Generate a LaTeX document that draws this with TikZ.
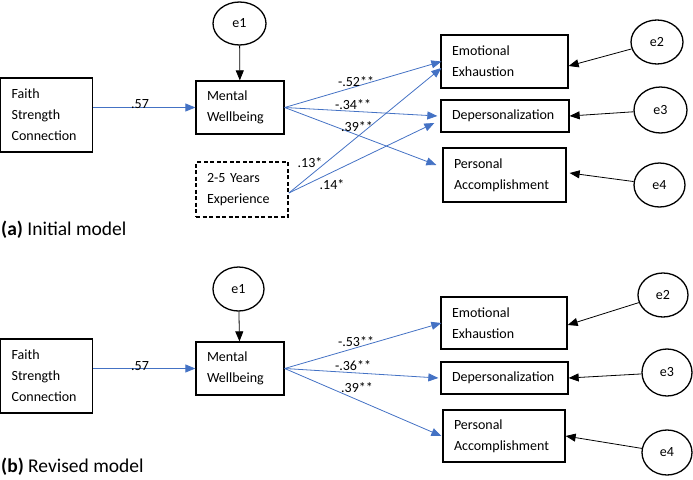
\documentclass[tikz,border=0pt]{standalone}
\usepackage{fontspec}
\setmainfont{Carlito}
\usetikzlibrary{shapes.geometric,arrows.meta}
\definecolor{pathblue}{RGB}{68,114,196}
\newcommand{\boxfont}{\fontsize{14}{21}\selectfont}
\tikzset{
  box/.style={draw, line width=1.3pt, inner xsep=11pt, inner ysep=0pt, align=left, font=\boxfont},
  dbox/.style={box, dash pattern=on 4pt off 2.5pt, line width=1.7pt},
  err/.style={draw, ellipse, line width=1.3pt, inner sep=0pt, font=\fontsize{14}{15}\selectfont},
  blue arrow/.style={draw=pathblue, line width=0.8pt, -{Triangle[length=10pt,width=8pt]}, color=pathblue},
  black arrow/.style={draw=black, line width=0.8pt, -{Triangle[length=10pt,width=8pt]}},
  coef/.style={font=\fontsize{14}{15}\selectfont, inner sep=0pt},
  captext/.style={font=\fontsize{19.5}{21}\selectfont, anchor=west, inner sep=0pt}
}
\begin{document}
\begin{tikzpicture}[x=1pt,y=-1pt]
\useasboundingbox (0,0) rectangle (693,479);
% ---------- panel (a) ----------
\node[box, text width=70pt, minimum height=74pt] (fa) at (46.6,115) {Faith\\Strength\\Connection};
\node[box, text width=66pt, minimum height=53pt] (mwa) at (240,107.5) {Mental\\Wellbeing};
\node[dbox, text width=70pt, minimum height=55pt] (ty) at (242,189.5) {2-5 Years\\Experience};
\node[box, text width=105pt, minimum height=53pt] (eea) at (504.5,61.5) {Emotional\\Exhaustion};
\node[box, text width=106pt, minimum height=32pt] (dpa) at (505,116) {Depersonalization};
\node[box, text width=101pt, minimum height=54pt] (paa) at (504.5,175) {Personal\\Accomplishment};
\node[err, minimum width=53pt, minimum height=43pt] (e1a) at (239.5,23.5) {e1};
\node[err, minimum width=52pt, minimum height=44pt] (e2a) at (657,42) {e2};
\node[err, minimum width=53pt, minimum height=46pt] (e3a) at (660.5,110) {e3};
\node[err, minimum width=51pt, minimum height=44pt] (e4a) at (659.5,185) {e4};

\draw[black arrow] (e1a) -- (mwa);
\draw[black arrow] (e2a) -- ([yshift=-4.5pt]eea.east);
\draw[black arrow] (e3a) -- (dpa.east);
\draw[black arrow] (e4a) -- ([xshift=3pt,yshift=2pt]paa.east);

\draw[blue arrow] (fa.east |- mwa.west) -- (mwa.west);
\draw[blue arrow] (mwa.east) -- ([xshift=1pt]eea.west);
\draw[blue arrow] (mwa.east) -- ([xshift=-3pt]dpa.west);
\draw[blue arrow] (mwa.east) -- ([xshift=-6pt,yshift=10pt]paa.west);
\draw[blue arrow] ([yshift=-3.5pt]ty.east) -- ([xshift=1pt,yshift=-6.5pt]eea.west);
\draw[blue arrow] ([yshift=-3.5pt]ty.east) -- ([xshift=-6pt,yshift=-7pt]dpa.west);

\node[coef] (ca1) at (140,104) {.57};
\node[coef] (ca2) at (356,82) {-.52**};
\node[coef] (ca3) at (353,105) {-.34**};
\node[coef] (ca4) at (357,127) {.39**};
\node[coef] (ca5) at (310,163) {.13*};
\node[coef] (ca6) at (332,185) {.14*};
\node[captext] (capa) at (1,230) {\textbf{(a)} Initial model};

% ---------- panel (b) ----------
\node[box, text width=70pt, minimum height=74pt] (fb) at (46.6,376) {Faith\\Strength\\Connection};
\node[box, text width=66pt, minimum height=53pt] (mwb) at (240,368.5) {Mental\\Wellbeing};
\node[box, text width=104pt, minimum height=52pt] (eeb) at (504,323) {Emotional\\Exhaustion};
\node[box, text width=105pt, minimum height=32pt] (dpb) at (504.5,378) {Depersonalization};
\node[box, text width=100pt, minimum height=52pt] (pab) at (504,436) {Personal\\Accomplishment};
\node[err, minimum width=51pt, minimum height=44pt] (e1b) at (238.5,289) {e1};
\node[err, minimum width=50pt, minimum height=44pt] (e2b) at (663,295) {e2};
\node[err, minimum width=50pt, minimum height=47pt] (e3b) at (667,372.5) {e3};
\node[err, minimum width=50pt, minimum height=45pt] (e4b) at (667,452.5) {e4};

\draw[black arrow] (e1b) -- (mwb);
\draw[black arrow] (e2b) -- ([yshift=-2pt]eeb.east);
\draw[black arrow] (e3b) -- (dpb.east);
\draw[black arrow] (e4b) -- (pab.east);

\draw[blue arrow] (fb.east |- mwb.west) -- (mwb.west);
\draw[blue arrow] (mwb.east) -- ([xshift=1pt]eeb.west);
\draw[blue arrow] (mwb.east) -- ([xshift=-2pt]dpb.west);
\draw[blue arrow] (mwb.east) -- ([xshift=-1pt]pab.west);

\node[coef] (cb1) at (140,366) {.57};
\node[coef] (cb2) at (356,342) {-.53**};
\node[coef] (cb3) at (353,366) {-.36**};
\node[coef] (cb4) at (357,388) {.39**};
\node[captext] (capb) at (1,467) {\textbf{(b)} Revised model};
\end{tikzpicture}
\end{document}
